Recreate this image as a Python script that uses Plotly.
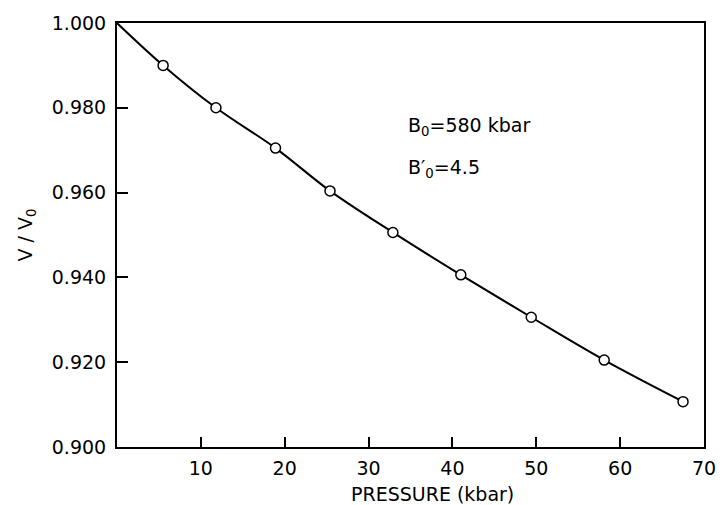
import plotly.graph_objects as go

# Data
pressure_kbar = [5.5, 11.8, 18.9, 25.4, 32.9, 41.0, 49.4, 58.1, 67.5]
v_over_v0 = [0.990, 0.980, 0.9705, 0.9604, 0.9506, 0.9406, 0.9306, 0.9205, 0.9107]
curve_start_x = [0.0]
curve_start_y = [1.000]

x_tick_vals = [10, 20, 30, 40, 50, 60, 70]
x_tick_text = ["10", "20", "30", "40", "50", "60", "70"]
y_tick_vals = [0.900, 0.920, 0.940, 0.960, 0.980, 1.000]
y_tick_text = ["0.900", "0.920", "0.940", "0.960", "0.980", "1.000"]

FONT = "DejaVu Sans"

fig = go.Figure()
fig.add_trace(go.Scatter(
    x=curve_start_x + pressure_kbar,
    y=curve_start_y + v_over_v0,
    mode="lines",
    line=dict(color="black", width=2, shape="spline", smoothing=1.0),
    hoverinfo="skip",
    showlegend=False,
))
fig.add_trace(go.Scatter(
    x=pressure_kbar,
    y=v_over_v0,
    mode="markers",
    marker=dict(symbol="circle", size=10, color="white",
                line=dict(color="black", width=1.5)),
    showlegend=False,
))

fig.update_xaxes(
    range=[0, 70],
    tickmode="array", tickvals=x_tick_vals, ticktext=x_tick_text,
    ticks="inside", ticklen=10, tickwidth=1.5, tickcolor="black",
    showline=True, linecolor="black", linewidth=2, mirror=True,
    showgrid=False, zeroline=False,
    ticklabelstandoff=3,
    tickfont=dict(family=FONT, size=19, color="black"),
)
fig.update_yaxes(
    range=[0.900, 1.000],
    tickmode="array", tickvals=y_tick_vals, ticktext=y_tick_text,
    ticks="inside", ticklen=11, tickwidth=1.5, tickcolor="black",
    showline=True, linecolor="black", linewidth=2, mirror=True,
    showgrid=False, zeroline=False,
    ticklabelstandoff=5,
    tickfont=dict(family=FONT, size=19, color="black"),
)

fig.add_annotation(
    text="PRESSURE (kbar)", xref="paper", yref="paper",
    x=(438 - 117) / (714 - 117), y=-(495 - 447) / (447 - 18),
    showarrow=False, xanchor="center", yanchor="middle",
    font=dict(family=FONT, size=19, color="black"),
)
fig.add_annotation(
    text="V / V<sub>0</sub>", xref="paper", yref="paper",
    x=-(117 - 24) / (714 - 117), y=0.5, textangle=-90,
    showarrow=False, xanchor="center", yanchor="middle",
    font=dict(family=FONT, size=19, color="black"),
)
fig.add_annotation(
    text="B<sub>0</sub>=580 kbar", xref="paper", yref="paper",
    x=(411 - 117) / (714 - 117), y=1 - (123 - 18) / (447 - 18),
    showarrow=False, xanchor="left", yanchor="middle",
    font=dict(family=FONT, size=19, color="black"),
)
fig.add_annotation(
    text="B\u2032<sub>0</sub>=4.5", xref="paper", yref="paper",
    x=(411 - 117) / (714 - 117), y=1 - (165 - 18) / (447 - 18),
    showarrow=False, xanchor="left", yanchor="middle",
    font=dict(family=FONT, size=19, color="black"),
)

fig.update_layout(
    width=728, height=505,
    margin=dict(l=117, r=14, t=18, b=58),
    paper_bgcolor="white", plot_bgcolor="white",
)

fig.write_html("out.html")
